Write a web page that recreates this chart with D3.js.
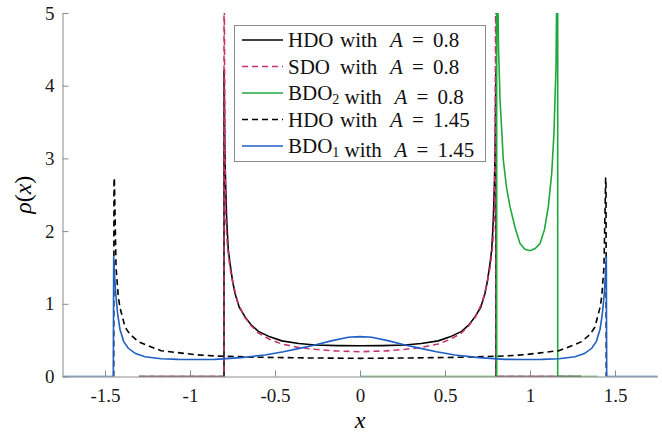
<!DOCTYPE html>
<html>
<head>
<meta charset="utf-8">
<script src="https://cdn.jsdelivr.net/npm/d3@7"></script>
<style>
  body { margin: 0; background: #fff; }
</style>
</head>
<body>
<div id="chart"></div>
<script>
const width = 662;
const height = 435;
const margin = {top: 13, right: 4.5, bottom: 58.5, left: 62.5};
const serif = '"Liberation Serif"';

const xTicks = [-1.5, -1, -0.5, 0, 0.5, 1, 1.5];
const yTicks = [0, 1, 2, 3, 4, 5];

// HDO with A = 0.8 (black solid)
const hdo08X = [-1.3, -0.8, -0.8, -0.799, -0.795, -0.79, -0.784, -0.775, -0.765, -0.75, -0.735, -0.71, -0.676, -0.64, -0.598, -0.53, -0.46, -0.36, -0.265, -0.13, 0,
                0.13, 0.265, 0.36, 0.46, 0.53, 0.598, 0.64, 0.676, 0.71, 0.735, 0.75, 0.765, 0.775, 0.784, 0.79, 0.795, 0.799, 0.8, 0.8, 1.3];
const hdo08Y = [0, 0, 4.2, 4.2, 3.1, 2.6, 2.15, 1.75, 1.56, 1.32, 1.14, 0.95, 0.82, 0.71, 0.62, 0.545, 0.49, 0.455, 0.433, 0.425, 0.423,
                0.425, 0.433, 0.455, 0.49, 0.545, 0.62, 0.71, 0.82, 0.95, 1.14, 1.32, 1.56, 1.75, 2.15, 2.6, 3.1, 4.2, 4.2, 0, 0];

// SDO with A = 0.8 (pink dashed)
const sdoX = [-1.3, -0.8, -0.8, -0.799, -0.795, -0.79, -0.78, -0.765, -0.745, -0.72, -0.68, -0.64, -0.598, -0.53, -0.46, -0.36, -0.265, -0.15, 0,
              0.15, 0.265, 0.36, 0.46, 0.53, 0.598, 0.64, 0.68, 0.72, 0.745, 0.765, 0.78, 0.79, 0.795, 0.799, 0.8, 0.8, 1.3];
const sdoY = [0, 0, 6, 6, 3.2, 2.2, 1.8, 1.5, 1.26, 1.03, 0.82, 0.7, 0.6, 0.51, 0.447, 0.4, 0.374, 0.352, 0.341,
              0.352, 0.374, 0.4, 0.447, 0.51, 0.6, 0.7, 0.82, 1.03, 1.26, 1.5, 1.8, 2.2, 3.2, 6, 6, 0, 0];

// BDO2 with A = 0.8 (green)
const bdo2X = [0, 0.804, 0.804, 0.806, 0.815, 0.824, 0.843, 0.862, 0.882, 0.912, 0.941, 0.97, 1.0, 1.03, 1.059, 1.085, 1.108, 1.128, 1.141, 1.153, 1.16, 1.163, 1.163, 1.4];
const bdo2Y = [0, 0, 6, 6, 4.5, 3.8, 2.98, 2.6, 2.34, 2.05, 1.83, 1.75, 1.73, 1.76, 1.83, 2.02, 2.34, 2.8, 3.35, 4.26, 6, 6, 0, 0];

// HDO with A = 1.45 (black dashed)
const hdo145X = [-1.449, -1.447, -1.445, -1.435, -1.422, -1.412, -1.382, -1.353, -1.304, -1.255, -1.17, -1.06, -0.97, -0.853, -0.6, -0.3, 0,
                 0.3, 0.6, 0.853, 0.97, 1.06, 1.17, 1.255, 1.304, 1.353, 1.382, 1.412, 1.422, 1.435, 1.445, 1.447, 1.449];
const hdo145Y = [0, 2.73, 2.73, 1.5, 1.1, 0.95, 0.68, 0.58, 0.48, 0.43, 0.355, 0.325, 0.3, 0.282, 0.265, 0.255, 0.25,
                 0.255, 0.265, 0.282, 0.3, 0.325, 0.355, 0.43, 0.48, 0.58, 0.68, 0.95, 1.1, 1.5, 2.73, 2.73, 0];

// BDO1 with A = 1.45 (blue)
const bdo1X = [-1.75, -1.451, -1.449, -1.445, -1.437, -1.425, -1.412, -1.39, -1.363, -1.32, -1.265, -1.17, -1.069, -0.95, -0.853, -0.7, -0.559, -0.45, -0.35, -0.265, -0.17, -0.069, 0,
               0.069, 0.17, 0.265, 0.35, 0.45, 0.559, 0.7, 0.853, 0.95, 1.069, 1.17, 1.265, 1.32, 1.363, 1.39, 1.412, 1.425, 1.437, 1.445, 1.449, 1.451, 1.75];
const bdo1Y = [0, 0, 1.65, 1.45, 1.14, 0.85, 0.65, 0.48, 0.388, 0.315, 0.272, 0.245, 0.236, 0.234, 0.236, 0.26, 0.296, 0.34, 0.39, 0.433, 0.49, 0.539, 0.548,
               0.539, 0.49, 0.433, 0.39, 0.34, 0.296, 0.26, 0.236, 0.234, 0.236, 0.245, 0.272, 0.315, 0.388, 0.48, 0.65, 0.85, 1.14, 1.45, 1.65, 0, 0];

// legend pieces: name, subscript, A value
const legendNames = ['HDO', 'SDO', 'BDO', 'HDO', 'BDO'];
const legendSubs = ['', '', '2', '', '1'];
const legendA = ['0.8', '0.8', '0.8', '1.45', '1.45'];

const series = [
  {xs: hdo08X, ys: hdo08Y, color: '#000000', dash: null},
  {xs: sdoX, ys: sdoY, color: '#c4336f', dash: '6,4'},
  {xs: bdo2X, ys: bdo2Y, color: '#1ea83c', dash: null},
  {xs: hdo145X, ys: hdo145Y, color: '#000000', dash: '6,4'},
  {xs: bdo1X, ys: bdo1Y, color: '#1f5fc4', dash: null}
];

const svg = d3.select('#chart')
  .append('svg')
    .attr('width', width)
    .attr('height', height);

const x = d3.scaleLinear().domain([-1.75, 1.75]).range([margin.left, width - margin.right]);
const y = d3.scaleLinear().domain([0, 5]).range([height - margin.bottom, margin.top]);

svg.append('clipPath').attr('id', 'clip')
  .append('rect')
    .attr('x', x(-1.75)).attr('y', y(5))
    .attr('width', x(1.75) - x(-1.75)).attr('height', y(0) - y(5));

const line = d3.line()
  .x(d => x(d[0]))
  .y(d => y(d[1]));

const g = svg.append('g').attr('clip-path', 'url(#clip)');

series.forEach(s => {
  g.append('path')
    .datum(s.xs.map((v, i) => [v, s.ys[i]]))
    .attr('fill', 'none')
    .attr('stroke', s.color)
    .attr('stroke-width', 1.6)
    .attr('stroke-dasharray', s.dash)
    .attr('d', line);
});

// axes
const axisColor = '#8a8a8a';
const xAxis = svg.append('g')
  .attr('transform', `translate(0,${y(0)})`)
  .call(d3.axisBottom(x).tickValues(xTicks).tickSizeInner(-6).tickSizeOuter(0).tickPadding(12)
        .tickFormat(d => String(d)));
const yAxis = svg.append('g')
  .attr('transform', `translate(${x(-1.75)},0)`)
  .call(d3.axisLeft(y).tickValues(yTicks).tickSizeInner(-6).tickSizeOuter(0).tickPadding(8)
        .tickFormat(d => String(d)));

[xAxis, yAxis].forEach(a => {
  a.attr('font-family', null);
  a.select('.domain').attr('stroke', axisColor).attr('stroke-width', 1);
  a.selectAll('.tick line').attr('stroke', axisColor);
  a.selectAll('.tick text')
    .attr('fill', '#1a1a1a')
    .style('font-family', serif)
    .style('font-size', '19px');
});
xAxis.selectAll('.tick text').attr('dy', '0.71em');

// axis labels
svg.append('text')
  .attr('x', x(0)).attr('y', 428)
  .attr('text-anchor', 'middle')
  .style('font-family', serif)
  .style('font-size', '24px').style('font-style', 'italic')
  .text('x');

const yl = svg.append('text')
  .attr('transform', `translate(31,${y(2.5)}) rotate(-90)`)
  .attr('text-anchor', 'middle')
  .style('font-family', serif)
  .style('font-size', '24px');
yl.append('tspan').style('font-style', 'italic').text('ρ');
yl.append('tspan').text('(');
yl.append('tspan').style('font-style', 'italic').text('x');
yl.append('tspan').text(')');

// legend
const lg = svg.append('g');
lg.append('rect')
  .attr('x', 234.5).attr('y', 25.5).attr('width', 251).attr('height', 136)
  .attr('fill', '#fff').attr('stroke', axisColor).attr('stroke-width', 1);

series.forEach((s, i) => {
  const cy = 40 + i * 26.5;
  const shift = legendSubs[i] ? 4.5 : 0;
  lg.append('line')
    .attr('x1', 242).attr('x2', 283).attr('y1', cy).attr('y2', cy)
    .attr('stroke', s.color).attr('stroke-width', 1.6)
    .attr('stroke-dasharray', s.dash);
  const t = lg.append('text')
    .attr('y', cy + 7)
    .style('font-family', serif)
    .style('font-size', '21px')
    .attr('fill', '#111');
  t.append('tspan').attr('x', 288).text(legendNames[i]);
  if (legendSubs[i]) {
    t.append('tspan').attr('dy', 4).style('font-size', '14px').text(legendSubs[i]);
    t.append('tspan').attr('dy', -4).text('');
  }
  t.append('tspan').attr('x', 340 + shift).text('with');
  t.append('tspan').attr('x', 390 + shift).style('font-style', 'italic').text('A');
  t.append('tspan').attr('x', 412 + shift).text('=');
  t.append('tspan').attr('x', 433 + shift).text(legendA[i]);
});
</script>
</body>
</html>
